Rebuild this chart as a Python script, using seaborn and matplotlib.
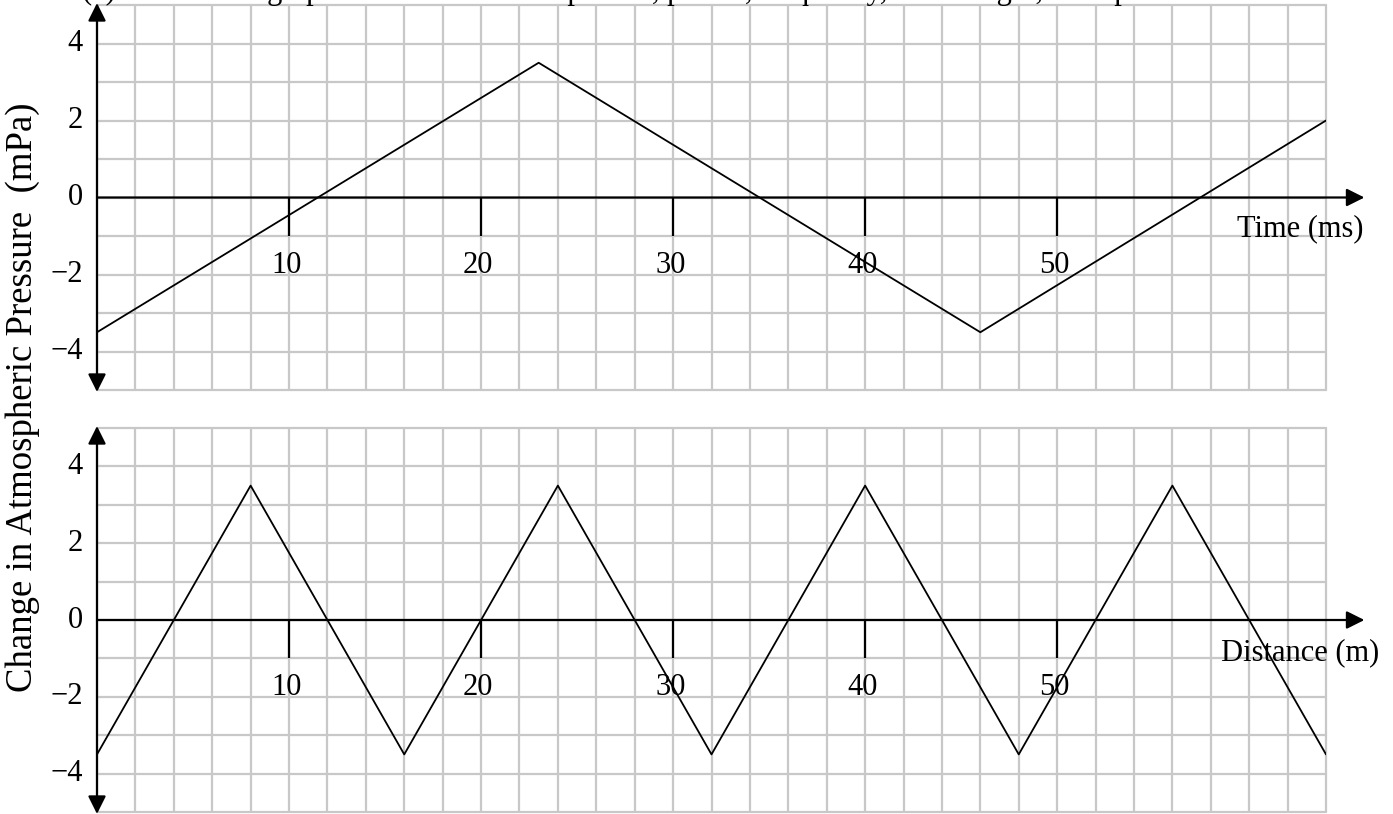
import matplotlib
matplotlib.use("Agg")
import matplotlib.pyplot as plt
from matplotlib.patches import ArrowStyle
import seaborn as sns
import pandas as pd

sns.set_theme(style="white")
plt.rcParams['font.family'] = ['Liberation Serif', 'DejaVu Serif']
plt.rcParams['text.color'] = 'black'

# ---- data ----
time_x = [0, 23, 46, 64]
time_y = [-3.5, 3.5, -3.5, 2.0]
dist_x = [0, 8, 16, 24, 32, 40, 48, 56, 64]
dist_y = [-3.5, 3.5, -3.5, 3.5, -3.5, 3.5, -3.5, 3.5, -3.5]
x_tick_vals = [10, 20, 30, 40, 50]
y_tick_vals = [-4, -2, 0, 2, 4]
y_tick_labels = ["\u22124", "\u22122", "0", "2", "4"]
title_text = "(c) From these graphs determine the amplitude, period, frequency, wavelength, and speed"
ylabel_text = "Change in Atmospheric Pressure  (mPa)"
x_labels = ["Time (ms)", "Distance (m)"]

FS = 22
W, H = 1393, 814
fig = plt.figure(figsize=(W / 100, H / 100), dpi=100)

left = 97 / W
right = 1326 / W
ax_top = fig.add_axes([left, 1 - 390 / H, right - left, (390 - 5) / H])
ax_bot = fig.add_axes([left, 1 - 812 / H, right - left, (812 - 428) / H])

ahead = ArrowStyle('-|>', head_length=0.72, head_width=0.36)
dhead = ArrowStyle('<|-|>', head_length=0.72, head_width=0.36)

panels = [
    (ax_top, time_x, time_y, x_labels[0], 65.95, -0.8),
    (ax_bot, dist_x, dist_y, x_labels[1], 66.75, -0.85),
]

for ax, xs, ys, xl, xlx, xly in panels:
    ax.set_xlim(0, 64)
    ax.set_ylim(-5, 5)
    ax.set_xticks(range(0, 65, 2))
    ax.set_yticks(range(-5, 6))
    ax.grid(True, color='#c8c8c8', lw=1.6, zorder=0)
    for gl in ax.get_xgridlines() + ax.get_ygridlines():
        gl.set_clip_on(False)
    ax.tick_params(length=0, labelbottom=False, labelleft=False)
    for s in ax.spines.values():
        s.set_visible(False)
    ax.set_axisbelow(True)

    df = pd.DataFrame({"x": xs, "y": ys})
    sns.lineplot(data=df, x="x", y="y", ax=ax, color='black', lw=1.3,
                 estimator=None, sort=False, zorder=3)
    ax.set_xlabel("")
    ax.set_ylabel("")

    # axes arrows
    ax.annotate("", xy=(66, 0), xytext=(0, 0),
                arrowprops=dict(arrowstyle=ahead, lw=1.6, color='black',
                                shrinkA=0, shrinkB=0, mutation_scale=15),
                annotation_clip=False, zorder=4)
    ax.annotate("", xy=(0, 5.05), xytext=(0, -5.05),
                arrowprops=dict(arrowstyle=dhead, lw=1.6, color='black',
                                shrinkA=0, shrinkB=0, mutation_scale=15),
                annotation_clip=False, zorder=4)

    # x ticks & labels
    for tv in x_tick_vals:
        ax.plot([tv, tv], [0, -1], color='black', lw=1.6, zorder=4,
                solid_capstyle='butt')
        ax.text(tv - 0.15, -1.77, str(tv), ha='center', va='center',
                fontsize=FS, zorder=5)
    # y tick labels
    for tv, tl in zip(y_tick_vals, y_tick_labels):
        ax.text(-0.73, tv, tl, ha='right', va='center', fontsize=FS,
                clip_on=False)
    ax.text(xlx, xly, xl, ha='right', va='center', fontsize=FS,
            clip_on=False, zorder=5)

fig.text(23 / W, 1 - 397 / H, ylabel_text, rotation=90, ha='center',
         va='center', fontsize=26.5)
fig.text(82 / W, 1 + 1 / H, title_text, ha='left', va='baseline',
         fontsize=FS)

fig.savefig("out.png", dpi=100)
